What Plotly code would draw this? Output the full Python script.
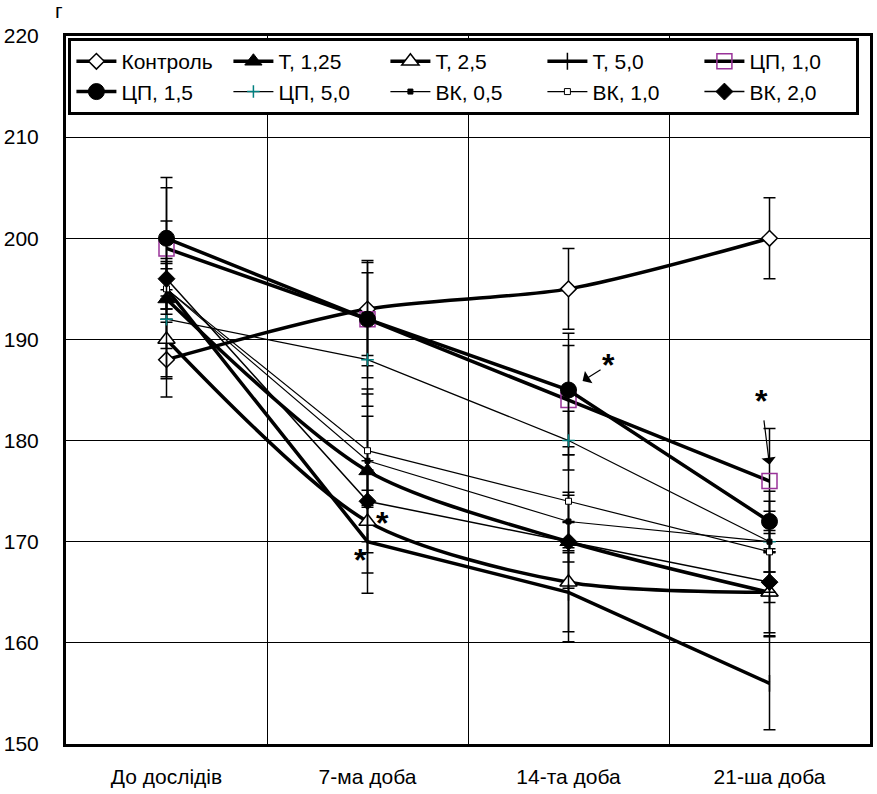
import plotly.graph_objects as go

categories = ["До дослідів", "7-ма доба", "14-та доба", "21-ша доба"]

series_names = ["Контроль", "Т, 1,25", "Т, 2,5", "Т, 5,0", "ЦП, 1,0",
                "ЦП, 1,5", "ЦП, 5,0", "ВК, 0,5", "ВК, 1,0", "ВК, 2,0"]

control = [188, 193, 195, 200]
t_125 = [194, 177, 170, 165]
t_25 = [190, 172, 166, 165]
t_50 = [195, 170, 165, 156]
cp_10 = [199, 192, 184, 176]
cp_15 = [200, 192, 185, 172]
cp_50 = [192, 188, 180, 170]
vk_05 = [195, 178, 172, 170]
vk_10 = [195, 179, 174, 169]
vk_20 = [196, 174, 170, 166]

err_control = [3.7, 4.6, 4.0, 4.0]
err_t_125 = [7.7, 8.1, 4.6, 4.3]
err_t_25 = [3.9, 5.1, 5.9, 4.0]
err_t_50 = [3.0, 5.1, 3.9, 4.6]
err_cp_10 = [6.0, 5.8, 5.4, 5.2]
err_cp_15 = [6.0, 4.6, 5.6, 3.0]
err_cp_50 = [2.9, 4.6, 2.9, 1.1]
err_vk_05 = [2.0, 4.4, 2.9, 3.0]
err_vk_10 = [2.5, 5.6, 4.6, 5.0]
err_vk_20 = [1.7, 4.0, 2.0, 1.0]

values = [control, t_125, t_25, t_50, cp_10, cp_15, cp_50, vk_05, vk_10, vk_20]
errors = [err_control, err_t_125, err_t_25, err_t_50, err_cp_10, err_cp_15,
          err_cp_50, err_vk_05, err_vk_10, err_vk_20]

styles = [
    dict(w=3.5, shape="spline", sym="diamond", size=12, mcol="white", lcol="black", lw=1.5),
    dict(w=3.5, shape="spline", sym="triangle-up", size=15, mcol="black", lcol="black", lw=1),
    dict(w=3.5, shape="spline", sym="triangle-up", size=15, mcol="white", lcol="black", lw=1.5),
    dict(w=3.5, shape="linear", sym="line-ns", size=12, mcol="black", lcol="black", lw=1.5),
    dict(w=3.5, shape="linear", sym="square", size=15, mcol="rgba(255,255,255,0)", lcol="#993399", lw=1.5),
    dict(w=3.5, shape="linear", sym="circle", size=16, mcol="black", lcol="black", lw=1),
    dict(w=1.2, shape="linear", sym="cross-thin", size=9, mcol="#008080", lcol="#008080", lw=1.5),
    dict(w=1.2, shape="linear", sym="square", size=5, mcol="black", lcol="black", lw=1),
    dict(w=1.2, shape="linear", sym="square", size=6, mcol="white", lcol="black", lw=1),
    dict(w=1.5, shape="linear", sym="diamond", size=13, mcol="black", lcol="black", lw=1),
]

fig = go.Figure()
for name, vals, errs, st in zip(series_names, values, errors, styles):
    fig.add_trace(go.Scatter(
        x=categories, y=vals, name=name, mode="lines+markers",
        line=dict(color="black", width=st["w"], shape=st["shape"], smoothing=0.8),
        marker=dict(symbol=st["sym"], size=st["size"], color=st["mcol"],
                    line=dict(color=st["lcol"], width=st["lw"])),
        error_y=dict(type="data", array=errs, visible=True, color="black",
                     thickness=1.5, width=6),
    ))

font_family = "Liberation Sans, Arial, sans-serif"

fig.update_layout(
    width=877, height=794,
    margin=dict(l=65, r=4, t=36, b=50),
    paper_bgcolor="white", plot_bgcolor="white",
    font=dict(family=font_family, size=21, color="black"),
    showlegend=True,
    legend=dict(
        orientation="h", x=0.003, y=0.997, xanchor="left", yanchor="top",
        bgcolor="white", bordercolor="black", borderwidth=3,
        font=dict(size=21, family=font_family),
        entrywidth=102, entrywidthmode="pixels",
        itemwidth=40,
    ),
    xaxis=dict(
        type="category", tickson="boundaries", showgrid=True,
        gridcolor="black", gridwidth=1, showline=True, linewidth=3,
        linecolor="black", mirror=True, ticks="", ticklabelstandoff=12,
        tickfont=dict(size=21), range=[-0.5, 3.5], fixedrange=True,
    ),
    yaxis=dict(
        range=[150, 220], dtick=10, tick0=150, showgrid=True,
        gridcolor="black", gridwidth=1, showline=True, linewidth=3,
        linecolor="black", mirror=True, ticks="", ticklabelstandoff=20,
        tickfont=dict(size=21), zeroline=False,
    ),
)

fig.add_annotation(x=-0.009, y=1.036, xref="paper", yref="paper", text="г",
                   showarrow=False, font=dict(size=21), xanchor="center", yanchor="middle")

star_font = dict(size=32, family=font_family, color="black")
fig.add_annotation(x=1.074, y=171.9, xref="x", yref="y", text="<b>*</b>",
                   showarrow=False, font=star_font)
fig.add_annotation(x=0.965, y=168.2, xref="x", yref="y", text="<b>*</b>",
                   showarrow=False, font=star_font)
fig.add_annotation(x=2.07, y=185.9, xref="x", yref="y", text="<b>*</b>",
                   showarrow=True, arrowhead=1, arrowsize=2, arrowwidth=1.2,
                   arrowcolor="black", ax=26, ay=-16, font=star_font)
fig.add_annotation(x=3.0, y=177.6, xref="x", yref="y", text="<b>*</b>",
                   showarrow=True, arrowhead=1, arrowsize=2, arrowwidth=1.2,
                   arrowcolor="black", ax=-8, ay=-64, font=star_font)

fig.write_html("out.html")
